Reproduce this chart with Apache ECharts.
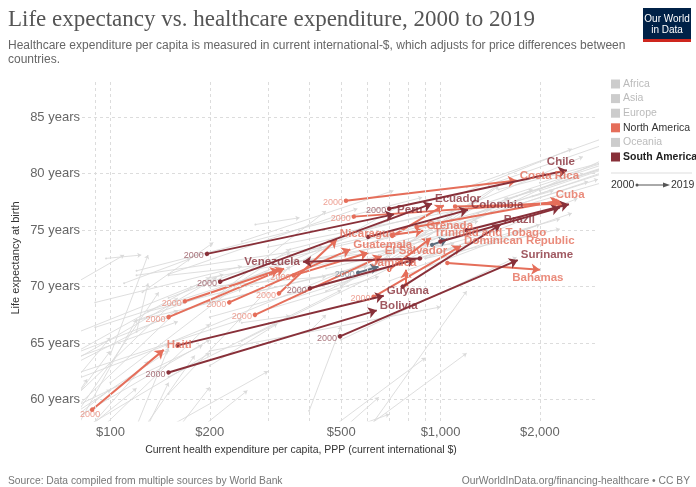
<!DOCTYPE html>
<html>
<head>
<meta charset="utf-8">
<script src="https://cdn.jsdelivr.net/npm/echarts@6/dist/echarts.min.js"></script>
<style>
  html, body { margin: 0; padding: 0; background: #fff; }
  #chart { width: 696px; height: 487px; }
</style>
</head>
<body>
<div id="chart"></div>
<script>
// Axis ticks and grid values
const xTicks = [100, 200, 500, 1000, 2000];
const xGridValues = [90, 100, 200, 300, 400, 500, 600, 700, 800, 900, 1000, 2000];
const yTicks = [60, 65, 70, 75, 80, 85];

// [country, spending 2000, life expectancy 2000, spending 2019, life expectancy 2019]
const northAmerica = [
  ['Haiti', 88, 59.1, 145, 64.4],
  ['Costa Rica', 517, 77.6, 1700, 79.4],
  ['Cuba', 546, 76.2, 2320, 77.5],
  ['Nicaragua', 324, 69.4, 485, 74.2],
  ['Guatemala', 229, 68.6, 533, 73.3],
  ['El Salvador', 274, 67.5, 663, 72.7],
  ['Jamaica', 787, 70.15, 785, 71.5],
  ['Grenada', 715, 74.6, 887, 74.95],
  ['Trinidad and Tobago', 699, 71.5, 935, 74.3],
  ['Dominican Republic', 627, 69.1, 1154, 73.6],
  ['Bahamas', 1049, 72.1, 2000, 71.5],
  ['Honduras', 168, 68.7, 324, 71.5],
  ['Belize', 150, 67.3, 336, 71.6],
  ['Mexico', 359, 71.0, 604, 73.0],
  ['Saint Lucia', 715, 74.5, 1023, 77.2],
  ['Panama', 847, 75.3, 2289, 77.6],
  ['Barbados', 1107, 77.1, 2371, 77.35]
];

const southAmerica = [
  ['Chile', 699, 76.9, 2415, 80.3],
  ['Ecuador', 215, 70.44, 942, 77.35],
  ['Peru', 196, 72.9, 723, 76.4],
  ['Colombia', 604, 74.4, 1211, 76.8],
  ['Brazil', 768, 70.0, 1521, 75.5],
  ['Venezuela', 866, 72.5, 383, 72.2],
  ['Suriname', 496, 65.6, 1714, 72.35],
  ['Guyana', 160, 64.8, 673, 69.2],
  ['Bolivia', 150, 62.4, 641, 67.9],
  ['Paraguay', 402, 69.85, 840, 72.4],
  ['Argentina', 1000, 74.0, 2300, 77.0],
  ['Uruguay', 1200, 75.0, 2450, 77.3]
];

// Two short paths drawn in slate
const slatePaths = [
  ['Slate A', 562, 71.24, 649, 71.76],
  ['Slate B', 942, 73.7, 1049, 74.2]
];

// Countries of the other continents: [spending 2000, life exp 2000, spending 2019, life exp 2019]
const otherCountries = [
  [1500,77.5,4000,81.5],[1300,76.5,3500,80.5],[1700,78.0,4500,82.0],[1100,75.5,3000,79.5],
  [900,72.5,2600,77.8],[700,70.5,2000,75.5],[750,72.0,2300,76.0],[800,71.5,2500,76.5],
  [600,73.8,2200,78.5],[1000,75.0,2800,79.3],[1200,78.8,3300,83.4],[1400,79.0,3600,83.2],
  [1600,77.8,4200,81.8],[500,71.2,1500,75.0],[450,71.6,1400,75.0],[650,72.8,1900,78.6],
  [400,72.0,1300,75.8],[300,73.5,1100,76.7],[350,72.8,1000,75.9],[275,75.5,374,76.1],
  [250,74.0,720,78.5],[500,65.3,1700,72.6],[200,67.3,650,71.5],[350,68.9,1300,74.2],
  [120,67.0,600,71.9],[1900,78.0,4800,82.0],[1000,76.2,2700,81.5],[1100,78.0,2500,82.2],
  [1400,76.5,3200,81.4],[1800,77.2,5000,81.0],[2000,78.5,5500,82.8],[1250,77.0,3100,80.8],
  [70,62.7,210,70.8],[120,71.4,880,77.9],[90,66.4,300,71.3],[60,62.5,160,66.9],
  [40,65.4,110,72.8],[120,71.0,440,73.5],[130,67.8,400,71.5],[300,70.6,760,77.2],
  [350,72.6,1100,76.0],[150,71.1,560,76.9],[60,62.3,200,70.8],[60,62.8,250,69.8],
  [40,58.8,160,67.9],[150,62.0,500,69.7],[250,65.2,900,73.2],[120,67.0,330,71.7],
  [90,68.6,250,71.8],[50,63.6,220,71.1],[200,64.3,1000,68.2],[450,69.6,1450,76.7],
  [300,68.0,650,70.9],[400,71.9,700,74.5],[900,74.3,1500,78.9],[900,72.5,2300,75.1],
  [500,70.0,1300,77.7],[200,70.8,1300,75.1],[150,71.0,1100,73.8],[150,65.0,700,73.0],
  [40,59.5,250,67.1],[150,60.5,350,71.8],[500,70.1,1500,79.0],[800,72.0,1600,77.9],
  [40,55.3,190,64.8],[80,59.0,140,69.5],[97,72.5,124,72.8],[110,70.3,175,72.5],
  [125,69.5,205,73.9],
  [80,57.2,200,64.1],[60,52.0,200,66.7],[25,51.0,80,66.6],[70,57.9,160,67.9],
  [30,48.6,160,69.0],[200,68.7,450,76.7],[250,70.5,850,76.9],[200,68.6,600,71.8],
  [350,73.3,1000,76.7],[400,50.0,1200,69.6],[500,55.9,1200,64.1],[300,53.3,900,63.7],
  [400,59.0,500,66.5],[150,69.0,350,73.0],[30,58.9,60,67.0],[40,51.5,100,65.5],
  [40,46.5,130,63.4],[80,58.5,200,65.3],[400,71.7,1200,74.9],[700,72.4,1300,77.2],
  [200,47.0,650,60.2],[60,44.0,180,63.9],[30,44.0,100,64.3],[100,61.5,250,70.4],
  [80,59.0,150,64.3],[60,60.5,150,64.9],[60,55.0,85,61.8],[60,53.8,120,61.0],
  [50,58.0,82,62.1],[80,57.8,120,67.1],[200,53.0,700,58.7],[100,52.0,150,64.6],
  [80,46.0,200,61.1],[80,45.0,150,61.5],[30,49.0,100,60.9],[120,56.0,300,62.5],
  [90,50.0,260,60.8],
  [250,66.8,350,67.4],[50,59.2,80,64.5],[200,68.7,350,73.3],[200,70.0,450,70.9],
  [120,66.0,130,70.3],[100,64.0,130,72.8],[1500,78.6,4200,82.0],[2000,79.2,5200,83.0],
  [200,63.0,320,66.7],[400,66.0,450,67.5]
];

// Which paths carry a "2000" tag at their start and a name at their end
const startTagged = ['Haiti', 'Costa Rica', 'Cuba', 'Nicaragua', 'Guatemala', 'El Salvador',
  'Dominican Republic', 'Honduras', 'Belize', 'Mexico', 'Chile', 'Ecuador', 'Peru',
  'Suriname', 'Bolivia', 'Paraguay', 'Slate A'];
const endLabels = ['Haiti', 'Costa Rica', 'Cuba', 'Nicaragua', 'Guatemala', 'El Salvador',
  'Jamaica', 'Grenada', 'Trinidad and Tobago', 'Dominican Republic', 'Bahamas',
  'Chile', 'Ecuador', 'Peru', 'Colombia', 'Brazil', 'Venezuela', 'Suriname', 'Guyana', 'Bolivia'];

// Label placement tweaks
const endLabelPlacement = {
  'Chile': { position: 'top', offset: [-6, 1] },
  'Cuba': { position: 'top', offset: [9, 2] },
  'Venezuela': { position: 'left', offset: [0, 0] },
  'Jamaica': { position: 'top', offset: [-12, 2] },
  'Bahamas': { position: 'bottom', offset: [-2, -1] }
};
const startLabelPlacement = {
  'Haiti': { position: 'bottom', offset: [-2, -3] }
};

const ORANGE = '#e56e5a';
const MAROON = '#883039';
const SLATE = '#5d6e7e';
const FONT = '"Liberation Sans", Arial, sans-serif';

const chart = echarts.init(document.getElementById('chart'), null, { renderer: 'canvas' });

function pathSeries(rows, color, width, sizes, z) {
  return {
    type: 'lines',
    coordinateSystem: 'cartesian2d',
    xAxisIndex: 0, yAxisIndex: 0,
    z: z,
    silent: true,
    symbol: ['circle', 'arrow'],
    symbolSize: sizes,
    lineStyle: { color: color, width: width, opacity: 1 },
    data: rows.map(r => ({ coords: [[r[1], r[2]], [r[3], r[4]]] }))
  };
}

function startTagSeries(rows, color, z) {
  return {
    type: 'scatter', z: z, silent: true,
    symbolSize: 0.1,
    itemStyle: { color: 'rgba(0,0,0,0)' },
    data: rows.filter(r => startTagged.includes(r[0])).map(r => {
      const p = startLabelPlacement[r[0]] || { position: 'left', offset: [0, 2] };
      return {
        value: [r[1], r[2]],
        label: { show: true, formatter: '2000', position: p.position, offset: p.offset,
                 distance: 3, color: color, fontSize: 9, fontFamily: FONT }
      };
    })
  };
}

function endLabelSeries(rows, color, z) {
  return {
    type: 'scatter', z: z, silent: true,
    symbolSize: 0.1,
    itemStyle: { color: 'rgba(0,0,0,0)' },
    data: rows.filter(r => endLabels.includes(r[0])).map(r => {
      const p = endLabelPlacement[r[0]] || { position: 'right', offset: [0, -5] };
      return {
        value: [r[3], r[4]],
        label: { show: true, formatter: r[0], position: p.position, offset: p.offset,
                 distance: 3, color: color, fontSize: 11.5, fontWeight: 'bold', fontFamily: FONT }
      };
    })
  };
}

const grayRows = otherCountries.map(r => ['', r[0], r[1], r[2], r[3]]);

const gridSeries = {
  type: 'line', data: [], silent: true, z: 1,
  markLine: {
    silent: true, symbol: 'none', animation: false,
    label: { show: false },
    lineStyle: { color: '#dcdcdc', type: [3, 3], width: 1 },
    data: xGridValues.map(v => ({ xAxis: v })).concat(yTicks.map(v => ({ yAxis: v })))
  }
};

const legendItems = [
  ['Africa', '#cccccc', '#bbbbbb', 'normal'],
  ['Asia', '#cccccc', '#bbbbbb', 'normal'],
  ['Europe', '#cccccc', '#bbbbbb', 'normal'],
  ['North America', ORANGE, '#333333', 'normal'],
  ['Oceania', '#cccccc', '#bbbbbb', 'normal'],
  ['South America', MAROON, '#222222', 'bold']
];

const graphics = [
  { type: 'text', left: 8, top: 8, style: { text: 'Life expectancy vs. healthcare expenditure, 2000 to 2019',
    fill: '#555555', font: '23px "Liberation Serif", "Times New Roman", serif' } },
  { type: 'text', left: 8, top: 38, style: { text: 'Healthcare expenditure per capita is measured in current international-$, which adjusts for price differences between\ncountries.',
    fill: '#666666', font: '12px ' + FONT, lineHeight: 14.5 } },
  { type: 'rect', shape: { x: 643, y: 8, width: 48, height: 34 }, style: { fill: '#002147' } },
  { type: 'rect', shape: { x: 643, y: 39, width: 48, height: 3 }, style: { fill: '#ce261e' } },
  { type: 'text', x: 667, y: 19, style: { text: 'Our World', fill: '#ffffff', font: '10px ' + FONT, align: 'center', verticalAlign: 'middle' } },
  { type: 'text', x: 667, y: 30, style: { text: 'in Data', fill: '#ffffff', font: '10px ' + FONT, align: 'center', verticalAlign: 'middle' } },
  { type: 'text', x: 16, y: 258, rotation: Math.PI / 2, style: { text: 'Life expectancy at birth', fill: '#333333',
    font: '11px ' + FONT, align: 'center', verticalAlign: 'middle' } },
  { type: 'text', x: 301, y: 450, style: { text: 'Current health expenditure per capita, PPP (current international $)', fill: '#333333',
    font: '10.5px ' + FONT, align: 'center', verticalAlign: 'middle' } },
  { type: 'text', x: 8, y: 481, style: { text: 'Source: Data compiled from multiple sources by World Bank', fill: '#777777',
    font: '10.3px ' + FONT, align: 'left', verticalAlign: 'middle' } },
  { type: 'text', x: 690, y: 481, style: { text: 'OurWorldInData.org/financing-healthcare • CC BY', fill: '#777777',
    font: '10.3px ' + FONT, align: 'right', verticalAlign: 'middle' } },
  { type: 'line', shape: { x1: 611, y1: 173, x2: 692, y2: 173 }, style: { stroke: '#dddddd', lineWidth: 1 } },
  { type: 'text', x: 611, y: 185, style: { text: '2000', fill: '#333333', font: '10.5px ' + FONT, verticalAlign: 'middle' } },
  { type: 'line', shape: { x1: 637, y1: 185, x2: 666, y2: 185 }, style: { stroke: '#555555', lineWidth: 1 } },
  { type: 'circle', shape: { cx: 637, cy: 185, r: 1.5 }, style: { fill: '#555555' } },
  { type: 'polygon', shape: { points: [[670, 185], [663, 182.5], [663, 187.5]] }, style: { fill: '#555555' } },
  { type: 'text', x: 671, y: 185, style: { text: '2019', fill: '#333333', font: '10.5px ' + FONT, verticalAlign: 'middle' } }
];
legendItems.forEach((it, i) => {
  const y = 84 + i * 14.6;
  graphics.push({ type: 'rect', shape: { x: 611, y: y - 4.5, width: 9, height: 9 }, style: { fill: it[1] } });
  graphics.push({ type: 'text', x: 623, y: y, style: { text: it[0], fill: it[2],
    font: (it[3] === 'bold' ? 'bold ' : '') + '10.5px ' + FONT, verticalAlign: 'middle' } });
});

const option = {
  animation: false,
  backgroundColor: '#ffffff',
  grid: { left: 82, right: 98, top: 80, bottom: 66, containLabel: false },
  xAxis: {
    type: 'log', logBase: 10, min: 82, max: 3000,
    axisLine: { show: false }, axisTick: { show: false }, splitLine: { show: false },
    axisLabel: {
      customValues: xTicks,
      formatter: v => '$' + Math.round(v).toLocaleString('en-US'),
      color: '#666666', fontSize: 13, fontFamily: FONT, margin: 5
    }
  },
  yAxis: {
    type: 'value', min: 58.1, max: 88.3,
    axisLine: { show: false }, axisTick: { show: false }, splitLine: { show: false },
    axisLabel: {
      customValues: yTicks,
      formatter: v => v + ' years',
      color: '#666666', fontSize: 13, fontFamily: FONT, margin: 2
    }
  },
  graphic: graphics,
  series: [
    gridSeries,
    pathSeries(grayRows, '#dadada', 0.9, [2, 4], 2),
    pathSeries(slatePaths, SLATE, 2, [4, 8], 3),
    pathSeries(northAmerica, ORANGE, 2, [4.5, 8.5], 4),
    pathSeries(southAmerica, MAROON, 2, [4.5, 8.5], 5),
    startTagSeries(slatePaths, '#7a8794', 6),
    startTagSeries(northAmerica, '#ea8a79', 6),
    startTagSeries(southAmerica, '#93505a', 6),
    endLabelSeries(northAmerica, ORANGE, 7),
    endLabelSeries(southAmerica, MAROON, 8)
  ]
};
chart.setOption(option);
</script>
</body>
</html>
